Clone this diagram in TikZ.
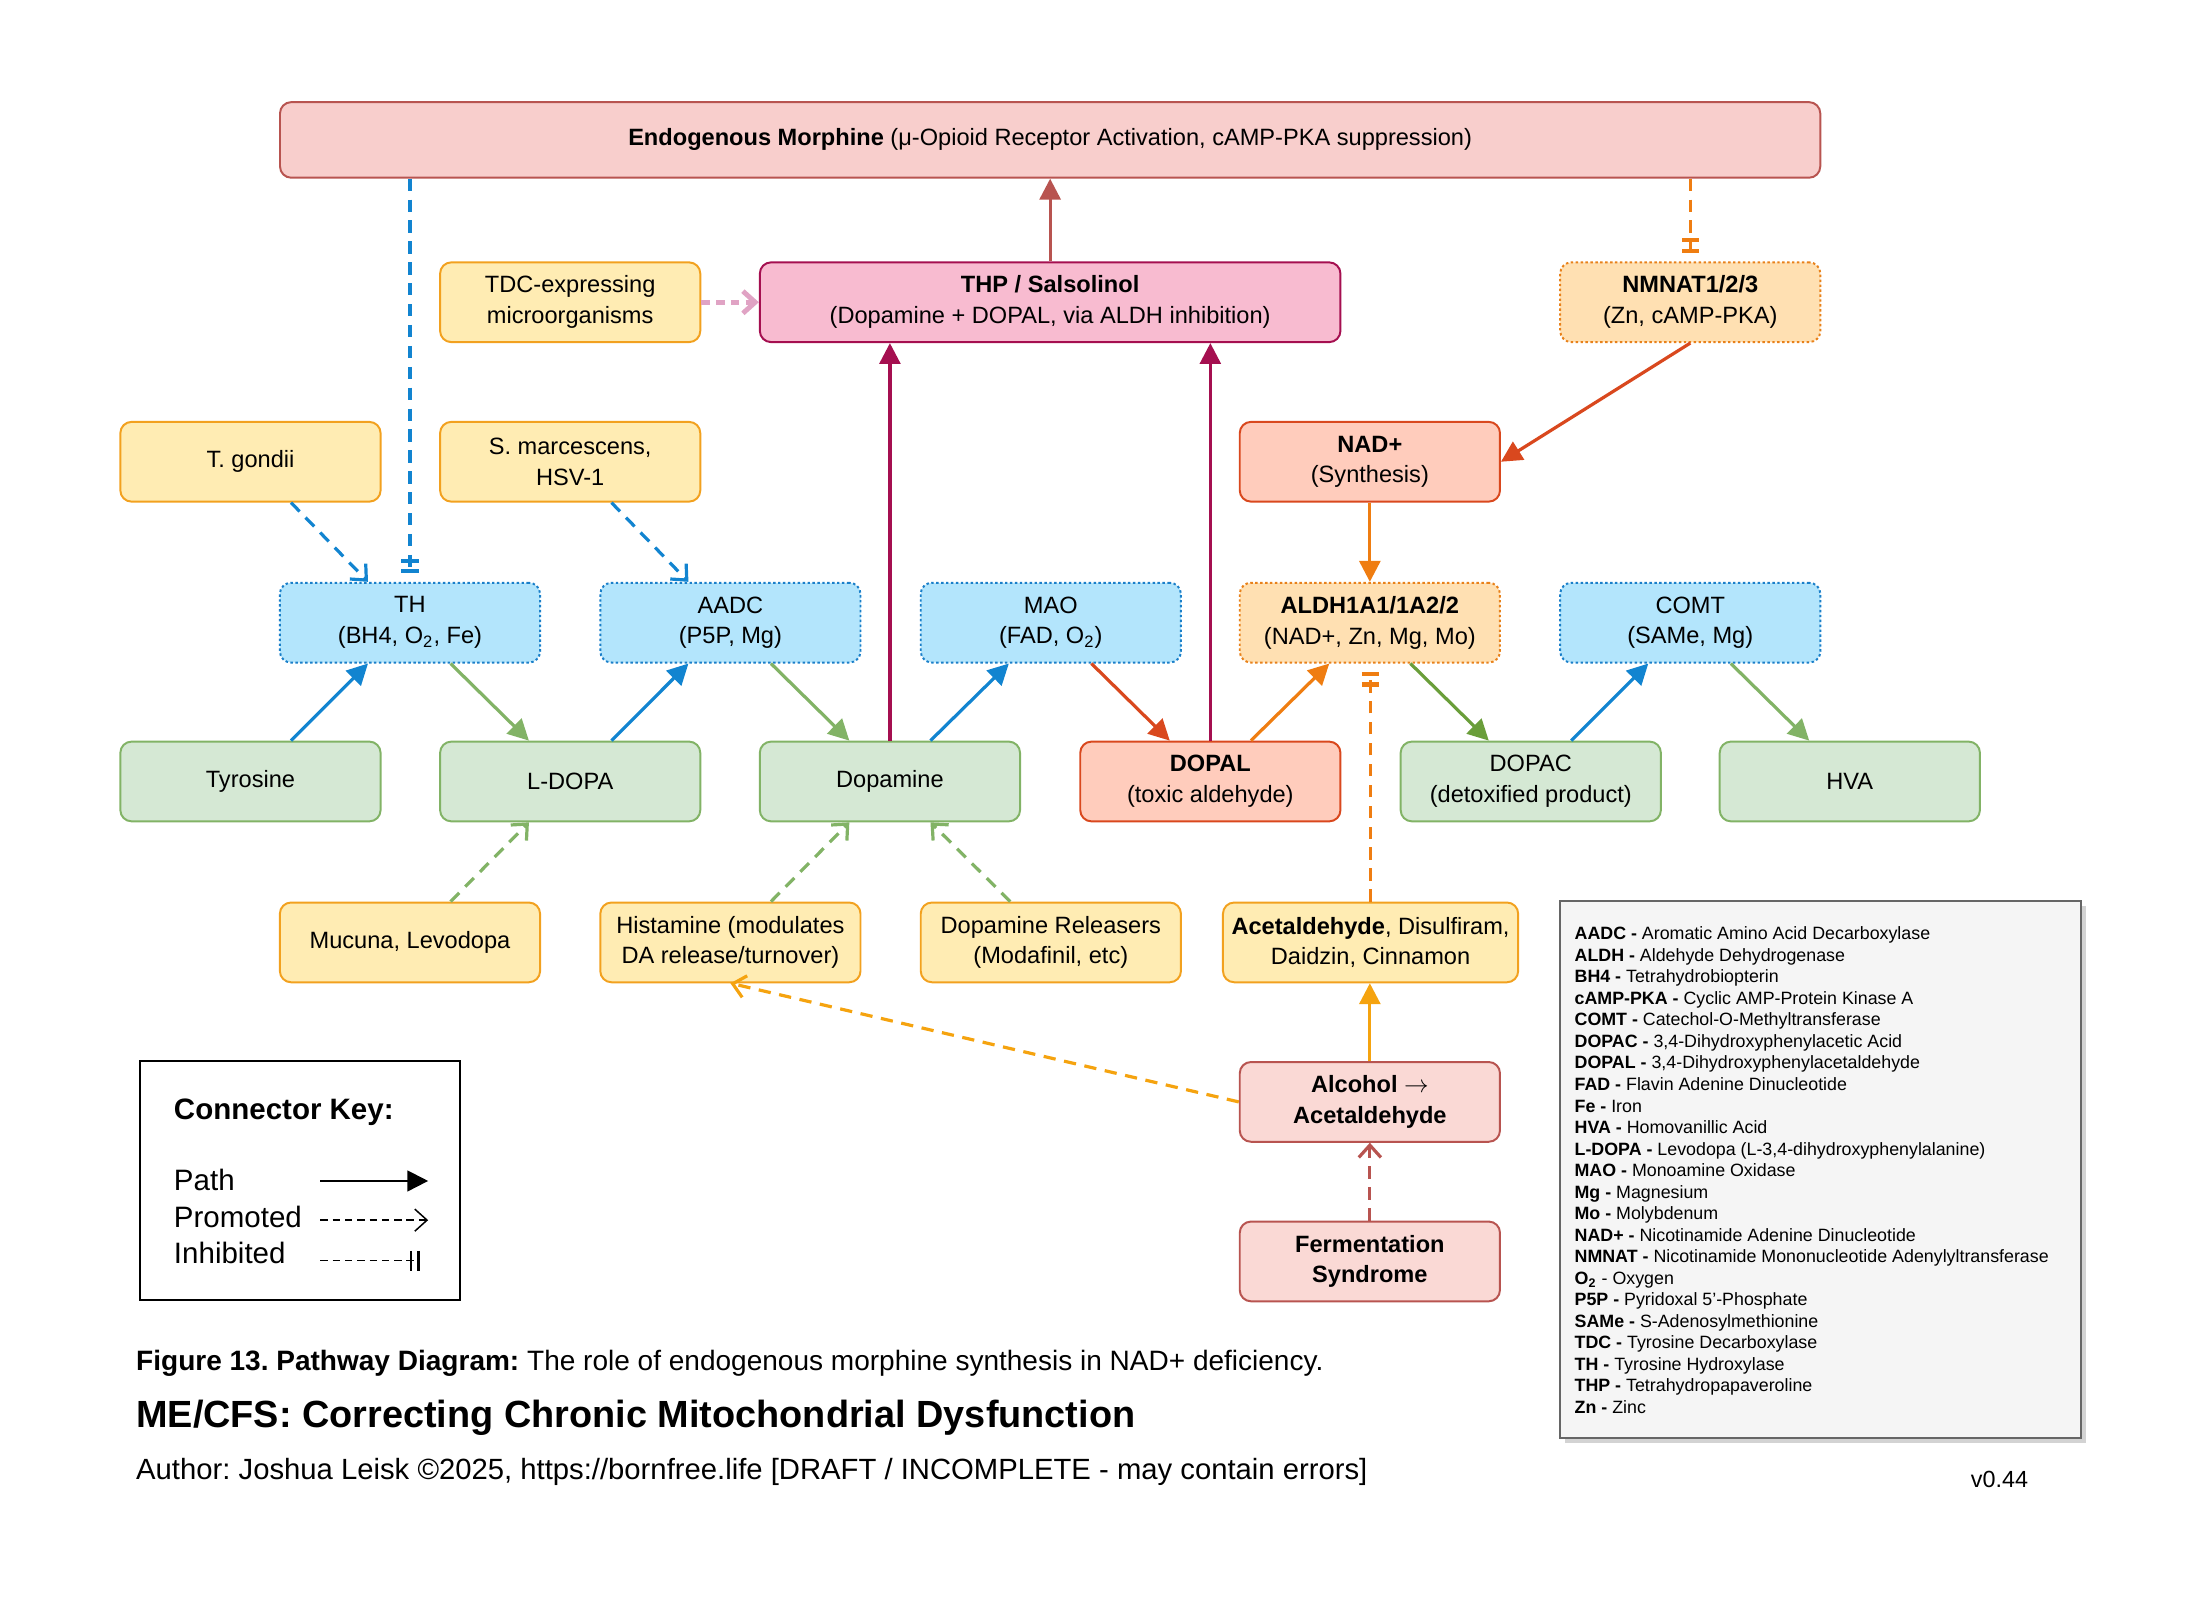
\documentclass[tikz,border=0pt]{standalone}
\usepackage{fontspec}
\setmainfont{Liberation Sans}
\usetikzlibrary{arrows.meta,shadows}
\frenchspacing

\definecolor{greenfill}{HTML}{D5E8D4}
\definecolor{greenline}{HTML}{82B366}
\definecolor{darkgreen}{HTML}{6A9E3A}
\definecolor{bluefill}{HTML}{B3E5FC}
\definecolor{blueline}{HTML}{1A7FC9}
\definecolor{bluearrow}{HTML}{1284D0}
\definecolor{yellowfill}{HTML}{FFECB3}
\definecolor{yellowline}{HTML}{F2A11F}
\definecolor{peachfill}{HTML}{FFE0B2}
\definecolor{peachline}{HTML}{E8811A}
\definecolor{salmonfill}{HTML}{FFCCBC}
\definecolor{salmonline}{HTML}{D9481E}
\definecolor{rosefill}{HTML}{F8CECC}
\definecolor{roseline}{HTML}{B85450}
\definecolor{lightrose}{HTML}{FAD9D5}
\definecolor{pinkfill}{HTML}{F8BBD0}
\definecolor{crimson}{HTML}{A50F50}
\definecolor{orangearrow}{HTML}{EF7D11}
\definecolor{amber}{HTML}{F5A30F}
\definecolor{softpink}{HTML}{E0A3C4}
\definecolor{keyfill}{HTML}{F5F5F5}
\definecolor{keyline}{HTML}{666666}

\newcommand{\Otwo}{O\textsubscript{2}}

\tikzset{
  box/.style={draw, rounded corners=0.16cm, line width=0.8pt, align=center,
    minimum width=3.72cm, minimum height=1.14cm, inner sep=0pt,
    font=\fontsize{9.6}{12.5}\selectfont},
  substrate/.style={box, fill=greenfill, draw=greenline},
  enzyme/.style={box, fill=bluefill, draw=blueline, dash pattern=on 1pt off 1pt},
  cofactor/.style={box, fill=peachfill, draw=peachline, dash pattern=on 1pt off 1pt},
  toxic/.style={box, fill=salmonfill, draw=salmonline},
  factor/.style={box, fill=yellowfill, draw=yellowline},
  outcome/.style={box, fill=rosefill, draw=roseline},
  keytext/.style={anchor=base west, inner sep=0pt, font=\fontsize{12}{14}\selectfont},
  flow/.style={color=#1, line width=1.3pt, -{Triangle[length=8.5pt,width=8.5pt]}},
  promote/.style={color=#1, line width=1.3pt, dash pattern=on 5pt off 3.5pt,
    -{Straight Barb[length=5pt,width=9pt]}},
  inhibit/.style={color=#1, line width=1.3pt, dash pattern=on 5pt off 3.5pt,
    -{Bar[width=7pt,line width=1.7pt,sep=2.5pt]Bar[width=7pt,line width=1.7pt]}, shorten >=3.5pt},
}

\begin{document}
\begin{tikzpicture}[x=0.02cm, y=-0.02cm]
	\useasboundingbox (0,0) rectangle (1568,1147.8);

	% top row
	\node[outcome, minimum width=22.02cm, minimum height=1.08cm] (morph) at (750.5,100) {\textbf{Endogenous Morphine} (μ-Opioid Receptor Activation, cAMP-PKA suppression)};
	\node[factor] (tdc) at (407.5,216) {TDC-expressing\\microorganisms};
	\node[box, fill=pinkfill, draw=crimson, minimum width=8.3cm] (thp) at (750.5,216) {\textbf{THP / Salsolinol}\\(Dopamine + DOPAL, via ALDH inhibition)};
	\node[cofactor] (nmnat) at (1208,216) {\textbf{NMNAT1/2/3}\\(Zn, cAMP-PKA)};

	\node[factor] (tgon) at (179,330) {T. gondii};
	\node[factor] (smar) at (407.5,330) {S. marcescens,\\HSV-1};
	\node[toxic] (nad) at (979,330) {\textbf{NAD+}\\(Synthesis)};

	% enzymes
	\node[enzyme] (th) at (293,445) {TH\\(BH4, \Otwo, Fe)};
	\node[enzyme] (aadc) at (522,445) {AADC\\(P5P, Mg)};
	\node[enzyme] (mao) at (751,445) {MAO\\(FAD, \Otwo)};
	\node[cofactor] (aldh) at (979,445) {\textbf{ALDH1A1/1A2/2}\\(NAD+, Zn, Mg, Mo)};
	\node[enzyme] (comt) at (1208,445) {COMT\\(SAMe, Mg)};

	% substrates
	\node[substrate] (tyr) at (179,558.5) {Tyrosine};
	\node[substrate] (ldopa) at (407.5,558.5) {L-DOPA};
	\node[substrate] (dopa) at (636,558.5) {Dopamine};
	\node[toxic] (dopal) at (865,558.5) {\textbf{DOPAL}\\(toxic aldehyde)};
	\node[substrate] (dopac) at (1094,558.5) {DOPAC\\(detoxified product)};
	\node[substrate] (hva) at (1322,558.5) {HVA};

	% modulators
	\node[factor] (muc) at (293,673.5) {Mucuna, Levodopa};
	\node[factor] (hist) at (522,673.5) {Histamine (modulates\\DA release/turnover)};
	\node[factor] (rel) at (751,673.5) {Dopamine Releasers\\(Modafinil, etc)};
	\node[factor, minimum width=4.22cm] (acet) at (979.5,673.5) {\textbf{Acetaldehyde}, Disulfiram,\\Daidzin, Cinnamon};
	\node[outcome, fill=lightrose] (alc) at (979,787.5) {\textbf{Alcohol $\rightarrow$}\\\textbf{Acetaldehyde}};
	\node[outcome, fill=lightrose] (ferm) at (979,901.5) {\textbf{Fermentation}\\\textbf{Syndrome}};

	% connectors
	\path [flow=roseline] (thp) edge (morph);
	\path [flow=crimson] (dopa.north) edge (dopa.north |- thp.south);
	\path [flow=crimson] (dopal.north) edge (dopal.north |- thp.south);
	\path [promote=softpink, line width=2pt, dash pattern=on 3.5pt off 2.5pt] (tdc) edge (thp);
	\path [inhibit=bluearrow] (th.north |- morph.south) edge (th.north);
	\path [inhibit=orangearrow] (nmnat.north |- morph.south) edge (nmnat.north);
	\path [promote=bluearrow] ([xshift=0.58cm]tgon.south) edge ([xshift=-0.6cm]th.north);
	\path [promote=bluearrow] ([xshift=0.59cm]smar.south) edge ([xshift=-0.6cm]aadc.north);
	\path [flow=salmonline] (nmnat.south) edge (nad.east);
	\path [flow=orangearrow] (nad) edge (aldh);

	\path [flow=bluearrow] ([xshift=0.58cm]tyr.north) edge ([xshift=-0.6cm]th.south);
	\path [flow=greenline] ([xshift=0.58cm]th.south) edge ([xshift=-0.59cm]ldopa.north);
	\path [flow=bluearrow] ([xshift=0.59cm]ldopa.north) edge ([xshift=-0.6cm]aadc.south);
	\path [flow=greenline] ([xshift=0.58cm]aadc.south) edge ([xshift=-0.58cm]dopa.north);
	\path [flow=bluearrow] ([xshift=0.58cm]dopa.north) edge ([xshift=-0.6cm]mao.south);
	\path [flow=salmonline] ([xshift=0.58cm]mao.south) edge ([xshift=-0.58cm]dopal.north);
	\path [flow=orangearrow] ([xshift=0.58cm]dopal.north) edge ([xshift=-0.58cm]aldh.south);
	\path [flow=darkgreen] ([xshift=0.58cm]aldh.south) edge ([xshift=-0.6cm]dopac.north);
	\path [flow=bluearrow] ([xshift=0.58cm]dopac.north) edge ([xshift=-0.6cm]comt.south);
	\path [flow=greenline] ([xshift=0.58cm]comt.south) edge ([xshift=-0.58cm]hva.north);

	\path [promote=greenline] ([xshift=0.58cm]muc.north) edge ([xshift=-0.59cm]ldopa.south);
	\path [promote=greenline] ([xshift=0.58cm]hist.north) edge ([xshift=-0.58cm]dopa.south);
	\path [promote=greenline] ([xshift=-0.58cm]rel.north) edge ([xshift=0.58cm]dopa.south);
	\path [inhibit=orangearrow] (acet.north) edge (acet.north |- aldh.south);
	\path [flow=amber] (alc.north) edge (alc.north |- acet.south);
	\path [promote=amber] (alc.west) edge (hist.south);
	\path [promote=roseline] (ferm) edge (alc);

	% connector key
	\node[draw, line width=0.8pt, minimum width=4.58cm, minimum height=3.42cm] (key) at (214.5,843.5) {};
	\node[keytext, font=\fontsize{12}{14}\selectfont\bfseries] (keytitle) at (124,800) {Connector Key:};
	\node[keytext] (kpath) at (124,851) {Path};
	\node[keytext] (kprom) at (124,877) {Promoted};
	\node[keytext] (kinh) at (124,903) {Inhibited};
	\coordinate (k1a) at (229,844);
	\coordinate (k1b) at (306,844);
	\coordinate (k2a) at (229,872);
	\coordinate (k2b) at (306,872);
	\coordinate (k3a) at (229,901);
	\coordinate (k3b) at (306,901);
	\path [flow=black, line width=0.8pt] (k1a) edge (k1b);
	\path [promote=black, line width=0.6pt, dash pattern=on 3pt off 2pt] (k2a) edge (k2b);
	\path [inhibit=black, line width=0.6pt, dash pattern=on 3pt off 2pt,
		-{Bar[width=8pt,line width=0.9pt,sep=2pt]Bar[width=8pt,line width=0.9pt]}] (k3a) edge (k3b);

	% abbreviations
	\node[draw=keyline, line width=0.8pt, fill=keyfill, minimum width=7.44cm, minimum height=7.68cm,
		drop shadow={shadow xshift=0.07cm, shadow yshift=-0.07cm, opacity=0.35}] (abbrbox) at (1301,836) {};
	\node[anchor=north west, align=left, inner sep=0pt, font=\fontsize{7.25}{8.76}\selectfont] (abbr) at (1125,662) {%
		\textbf{AADC -} Aromatic Amino Acid Decarboxylase\\
		\textbf{ALDH -} Aldehyde Dehydrogenase\\
		\textbf{BH4 -} Tetrahydrobiopterin\\
		\textbf{cAMP-PKA -} Cyclic AMP-Protein Kinase A\\
		\textbf{COMT -} Catechol-O-Methyltransferase\\
		\textbf{DOPAC -} 3,4-Dihydroxyphenylacetic Acid\\
		\textbf{DOPAL -} 3,4-Dihydroxyphenylacetaldehyde\\
		\textbf{FAD -} Flavin Adenine Dinucleotide\\
		\textbf{Fe -} Iron\\
		\textbf{HVA -} Homovanillic Acid\\
		\textbf{L-DOPA -} Levodopa (L-3,4-dihydroxyphenylalanine)\\
		\textbf{MAO -} Monoamine Oxidase\\
		\textbf{Mg -} Magnesium\\
		\textbf{Mo -} Molybdenum\\
		\textbf{NAD+ -} Nicotinamide Adenine Dinucleotide\\
		\textbf{NMNAT -} Nicotinamide Mononucleotide Adenylyltransferase\\
		\textbf{\Otwo} - Oxygen\\
		\textbf{P5P -} Pyridoxal 5’-Phosphate\\
		\textbf{SAMe -} S-Adenosylmethionine\\
		\textbf{TDC -} Tyrosine Decarboxylase\\
		\textbf{TH -} Tyrosine Hydroxylase\\
		\textbf{THP -} Tetrahydropapaveroline\\
		\textbf{Zn -} Zinc};

	% caption
	\node[anchor=base west, inner sep=0pt, font=\fontsize{11.4}{14}\selectfont] (fig) at (97,979.5) {\textbf{Figure 13. Pathway Diagram:} The role of endogenous morphine synthesis in NAD+ deficiency.};
	\node[anchor=base west, inner sep=0pt, font=\fontsize{15.4}{18}\selectfont\bfseries] (title) at (97,1020.5) {ME/CFS: Correcting Chronic Mitochondrial Dysfunction};
	\node[anchor=base west, inner sep=0pt, font=\fontsize{11.9}{14}\selectfont] (author) at (97,1057.5) {Author: Joshua Leisk ©2025, https://bornfree.life [DRAFT / INCOMPLETE - may contain errors]};
	\node[anchor=base, inner sep=0pt, font=\fontsize{9.5}{11}\selectfont] (ver) at (1429,1063) {v0.44};
\end{tikzpicture}
\end{document}
